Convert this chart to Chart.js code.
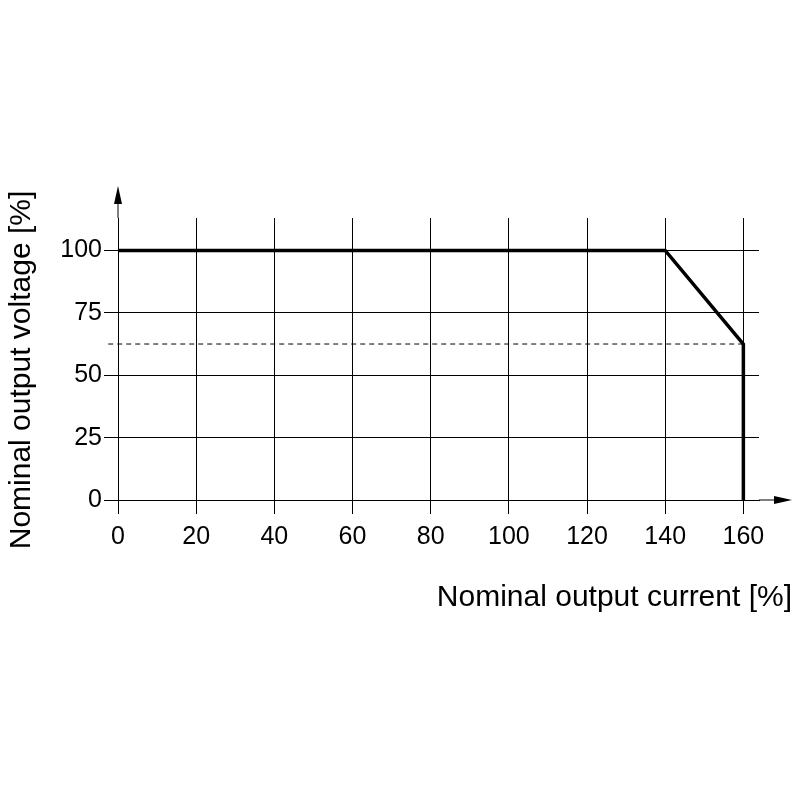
<!DOCTYPE html>
<html>
<head>
<meta charset="utf-8">
<script src="https://cdn.jsdelivr.net/npm/chart.js@4"></script>
<style>
  html, body { margin: 0; padding: 0; background: #fff; }
  #wrap { width: 800px; height: 800px; }
</style>
</head>
<body>
<div id="wrap"><canvas id="c" width="800" height="800"></canvas></div>
<script>
// Output characteristic: current [%] vs voltage [%]
const currentPct = [0, 140, 160, 160];
const voltagePct = [100, 100, 62.5, 0];
// dashed reference level
const refX = [-2.5, 160];
const refY = [62.5, 62.5];
const xTicks = [0, 20, 40, 60, 80, 100, 120, 140, 160];
const yTicks = [0, 25, 50, 75, 100];

const FONT = 'Liberation Sans, Arial, sans-serif';

// draw axis arrows and axis titles
const decorations = {
    id: 'decorations',
    afterDraw(chart) {
        const { ctx, chartArea: a } = chart;
        ctx.save();
        ctx.strokeStyle = '#000';
        ctx.fillStyle = '#000';
        ctx.lineWidth = 1;
        // y arrow
        ctx.beginPath();
        ctx.moveTo(a.left, a.top); ctx.lineTo(a.left, 196); ctx.stroke();
        ctx.beginPath();
        ctx.moveTo(a.left, 186); ctx.lineTo(a.left - 4, 204); ctx.lineTo(a.left + 4, 204); ctx.closePath(); ctx.fill();
        // x arrow
        ctx.beginPath();
        ctx.moveTo(a.right, a.bottom); ctx.lineTo(782, a.bottom); ctx.stroke();
        ctx.beginPath();
        ctx.moveTo(792, a.bottom); ctx.lineTo(774, a.bottom - 4); ctx.lineTo(774, a.bottom + 4); ctx.closePath(); ctx.fill();
        // titles
        ctx.font = '30px ' + FONT;
        ctx.textAlign = 'right';
        ctx.textBaseline = 'middle';
        ctx.fillText('Nominal output current [%]', 792, 598);
        ctx.translate(22, 370);
        ctx.rotate(-Math.PI / 2);
        ctx.textAlign = 'center';
        ctx.fillText('Nominal output voltage [%]', 0, 0);
        ctx.restore();
    }
};

new Chart(document.getElementById('c'), {
    type: 'scatter',
    data: {
        datasets: [
            {
                data: currentPct.map((x, i) => ({ x, y: voltagePct[i] })),
                showLine: true,
                borderColor: '#000',
                borderWidth: 3.5,
                pointRadius: 0,
                clip: false
            },
            {
                data: refX.map((x, i) => ({ x, y: refY[i] })),
                showLine: true,
                borderColor: '#000',
                borderWidth: 1,
                borderDash: [5, 4],
                pointRadius: 0,
                clip: false
            }
        ]
    },
    options: {
        responsive: false,
        animation: false,
        layout: { padding: { top: 218, right: 41, left: 0, bottom: 0 } },
        plugins: { legend: { display: false }, tooltip: { enabled: false } },
        scales: {
            x: {
                type: 'linear', min: 0, max: 164,
                afterBuildTicks: s => { s.ticks = xTicks.map(v => ({ value: v })); },
                afterFit: s => { s.height = 300; },
                grid: { color: '#000', lineWidth: 1, tickLength: 14, drawOnChartArea: true },
                border: { color: '#000', width: 1 },
                ticks: { color: '#000', font: { family: FONT, size: 25 }, padding: 8 }
            },
            y: {
                type: 'linear', min: 0, max: 113,
                afterBuildTicks: s => { s.ticks = yTicks.map(v => ({ value: v })); },
                afterFit: s => { s.width = 118; },
                grid: { color: '#000', lineWidth: 1, tickLength: 14 },
                border: { color: '#000', width: 1 },
                ticks: { color: '#000', font: { family: FONT, size: 25 }, padding: 2 }
            }
        }
    },
    plugins: [decorations]
});
</script>
</body>
</html>
